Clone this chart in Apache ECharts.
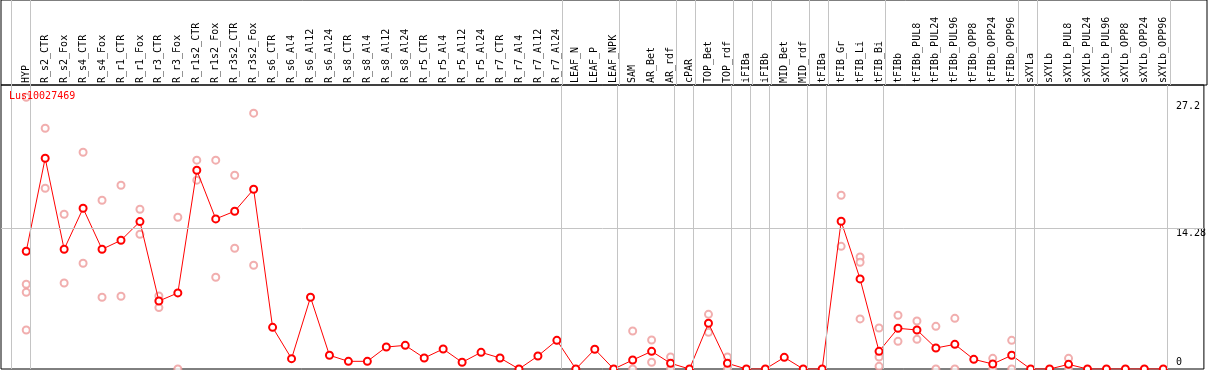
<!DOCTYPE html>
<html>
<head>
<meta charset="utf-8">
<title>Lus10027469</title>
<script src="https://cdn.jsdelivr.net/npm/echarts@6/dist/echarts.min.js"></script>
<style>
  html, body { margin: 0; padding: 0; background: #fff; }
  #chart { width: 1209px; height: 370px; }
</style>
</head>
<body>
<div id="chart"></div>
<script>
const categories = [
  'HYP', 'R_s2_CTR', 'R_s2_Fox', 'R_s4_CTR', 'R_s4_Fox', 'R_r1_CTR', 'R_r1_Fox',
  'R_r3_CTR', 'R_r3_Fox', 'R_r1s2_CTR', 'R_r1s2_Fox', 'R_r3s2_CTR', 'R_r3s2_Fox',
  'R_s6_CTR', 'R_s6_Al4', 'R_s6_Al12', 'R_s6_Al24', 'R_s8_CTR', 'R_s8_Al4', 'R_s8_Al12',
  'R_s8_Al24', 'R_r5_CTR', 'R_r5_Al4', 'R_r5_Al12', 'R_r5_Al24', 'R_r7_CTR', 'R_r7_Al4',
  'R_r7_Al12', 'R_r7_Al24', 'LEAF_N', 'LEAF_P', 'LEAF_NPK', 'SAM', 'AR_Bet', 'AR_rdf',
  'cPAR', 'TOP_Bet', 'TOP_rdf', 'iFIBa', 'iFIBb', 'MID_Bet', 'MID_rdf', 'tFIBa',
  'tFIB_Gr', 'tFIB_Li', 'tFIB_Bi', 'tFIBb', 'tFIBb_PUL8', 'tFIBb_PUL24', 'tFIBb_PUL96',
  'tFIBb_OPP8', 'tFIBb_OPP24', 'tFIBb_OPP96', 'sXYLa', 'sXYLb', 'sXYLb_PUL8',
  'sXYLb_PUL24', 'sXYLb_PUL96', 'sXYLb_OPP8', 'sXYLb_OPP24', 'sXYLb_OPP96'
];

// mean expression per sample
const meanValues = [
  11.95, 21.39, 12.15, 16.31, 12.15, 13.06, 14.96, 6.90, 7.72, 20.17, 15.23, 16.01, 18.24,
  4.23, 1.05, 7.28, 1.39, 0.78, 0.78, 2.23, 2.40, 1.12, 2.03, 0.68, 1.69, 1.12, 0, 1.32, 2.91, 0,
  2.0, 0, 0.91, 1.79, 0.58, 0, 4.64, 0.58, 0, 0, 1.18, 0, 0,
  14.99, 9.14, 1.79, 4.13, 3.96, 2.13, 2.50, 0.98, 0.51, 1.39, 0, 0, 0.47, 0, 0, 0, 0, 0
];

// single replicates per sample (empty = none shown)
const replicates = [
  [27.58, 8.60, 7.79, 3.96], [24.43, 18.34], [15.70, 8.73], [22.0, 10.73], [17.12, 7.28],
  [18.65, 7.38], [16.21, 13.67], [7.41, 6.23], [15.40, 0], [21.19, 19.16], [21.19, 9.31],
  [19.66, 12.25], [25.96, 10.53],
  [], [], [], [], [], [], [], [], [], [], [], [], [], [], [], [], [], [], [],
  [3.86, 0], [2.94, 0.68], [1.22, 0], [], [5.55, 3.73], [1.22, 0], [], [], [], [], [],
  [17.63, 12.45], [11.37, 10.83, 5.08], [4.16, 1.22, 0.27], [5.45, 2.81], [4.87, 3.01],
  [4.33, 0], [5.14, 0], [], [1.08, 0], [2.91, 0], [], [], [1.08, 0], [], [], [], [], []
];

// last sample index of each group (separator drawn just after it)
const groupEnds = [-1, 0, 28, 31, 34, 35, 37, 38, 39, 41, 42, 45, 52, 53, 60];

// right hand tick labels
const tickValues = [14.28, 27.2];
const zeroTick = [0];

const MONO = 'DejaVu Sans Mono';
const X_MIN = -1.3316, X_MAX = 62.142;   // sample i sits at 26.3 + 19*i px
const Y_MAX = 28.82;
const SEP_SHIFT = 4 / 19;

const meanData = meanValues.map((v, i) => [i, v]);
const repData = [];
replicates.forEach((reps, i) => reps.forEach(v => repData.push([i, v])));
const sepLines = groupEnds.map(g => ({ xAxis: g + SEP_SHIFT }));

const sepMark = {
  silent: true,
  symbol: 'none',
  label: { show: false },
  lineStyle: { color: '#c4c4c4', width: 1, type: 'solid' },
  emphasis: { disabled: true },
  data: sepLines
};

const option = {
  animation: false,
  backgroundColor: '#fff',
  title: {
    text: 'Lus10027469',
    left: 9,
    top: 91,
    padding: 0,
    textStyle: { color: '#ff0000', fontFamily: MONO, fontSize: 10, fontWeight: 'normal' }
  },
  grid: [
    { // header with sample names
      left: 1, right: 2, top: 0, height: 85,
      show: true, borderColor: '#000', borderWidth: 1
    },
    { // plot
      left: 1, right: 2, top: 85, bottom: 1,
      show: true, borderColor: '#000', borderWidth: 1
    }
  ],
  xAxis: [
    { gridIndex: 0, type: 'value', min: X_MIN, max: X_MAX, show: false },
    {
      gridIndex: 1, type: 'value', min: X_MIN, max: X_MAX, position: 'top',
      axisLine: { show: false },
      axisTick: { show: false },
      splitLine: { show: false },
      axisLabel: {
        customValues: categories.map((c, i) => i),
        formatter: v => categories[v],
        rotate: 90,
        margin: 2,
        color: '#000',
        fontFamily: MONO,
        fontSize: 10
      }
    }
  ],
  yAxis: [
    { gridIndex: 0, type: 'value', min: 0, max: 1, show: false },
    {
      gridIndex: 1, type: 'value', min: 0, max: Y_MAX, position: 'right',
      axisLine: { show: false },
      axisTick: { show: false },
      splitLine: { show: false },
      axisLabel: {
        customValues: tickValues,
        inside: true,
        align: 'left',
        verticalAlign: 'top',
        margin: 28,
        color: '#000',
        fontFamily: MONO,
        fontSize: 10
      }
    },
    {
      gridIndex: 1, type: 'value', min: 0, max: Y_MAX, position: 'right',
      axisLine: { show: false },
      axisTick: { show: false },
      splitLine: { show: false },
      axisLabel: {
        customValues: zeroTick,
        inside: true,
        align: 'left',
        verticalAlign: 'bottom',
        margin: 28,
        padding: [0, 0, 2, 0],
        color: '#000',
        fontFamily: MONO,
        fontSize: 10
      }
    }
  ],
  series: [
    { // separators in the header
      type: 'scatter', xAxisIndex: 0, yAxisIndex: 0, data: [], z: 1,
      markLine: sepMark
    },
    { // separators + 14.28 line in the plot
      type: 'scatter', xAxisIndex: 1, yAxisIndex: 1, data: [], z: 1,
      markLine: Object.assign({}, sepMark, { data: sepLines.concat([{ yAxis: 14.28 }]) })
    },
    {
      name: 'replicates',
      type: 'scatter', xAxisIndex: 1, yAxisIndex: 1, z: 2,
      symbol: 'emptyCircle', symbolSize: 7,
      itemStyle: { color: '#ee9a9a', borderWidth: 1.2 },
      data: repData
    },
    {
      name: 'mean',
      type: 'line', xAxisIndex: 1, yAxisIndex: 1, z: 3,
      symbol: 'emptyCircle', symbolSize: 7,
      itemStyle: { color: '#ff0000', borderWidth: 1.4 },
      lineStyle: { color: '#ff0000', width: 1 },
      data: meanData
    }
  ]
};

const chart = echarts.init(document.getElementById('chart'));
chart.setOption(option);
</script>
</body>
</html>
